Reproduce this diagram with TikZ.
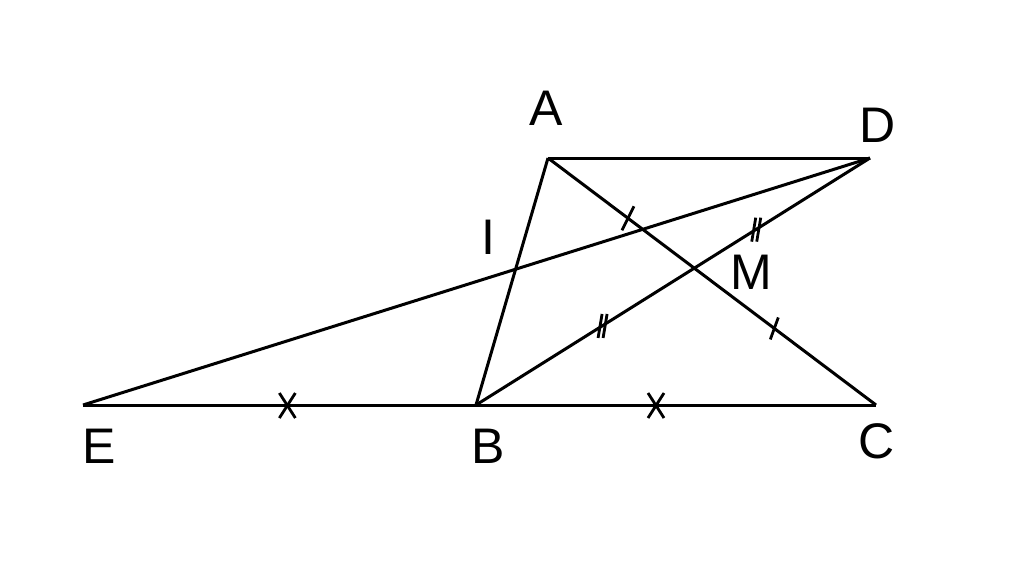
\documentclass[tikz,border=0pt]{standalone}
\usepackage{fontspec}
\setmainfont{Liberation Sans}
\usetikzlibrary{calc}
\begin{document}
\begin{tikzpicture}[x=0.5pt,y=-0.5pt,
  seg/.style={line width=1.5pt,black},
  tick/.style={line width=1.4pt,black},
  lbl/.style={font=\fontsize{25}{29}\selectfont,inner sep=0pt}]
\useasboundingbox (0,0) rectangle (1024,579);
\coordinate (A) at (548,158);
\coordinate (D) at (870,158);
\coordinate (E) at (83,405);
\coordinate (B) at (476,405);
\coordinate (C) at (876,405);
\draw[seg] (A) -- (D);
\draw[seg] (A) -- (B);
\draw[seg] (A) -- (C);
\draw[seg] (B) -- (D);
\draw[seg] (E) -- (D);
\draw[seg] (E) -- (C);
% single ticks on AC
\coordinate (t1) at ($(A)!0.244!(C)$);
\coordinate (t2) at ($(A)!0.69!(C)$);
\draw[tick] ($(t1)+(-6,12)$) -- ($(t1)+(6,-12)$);
\draw[tick] ($(t2)+(-4,11)$) -- ($(t2)+(4,-11)$);
% double ticks on BD
\coordinate (d1) at ($(B)!0.32!(D)$);
\coordinate (d2) at ($(B)!0.71!(D)$);
\foreach \p in {d1,d2}{
  \draw[tick] ($(\p)+(-4,12)$) -- ($(\p)+(0,-12)$);
  \draw[tick] ($(\p)+(1,12)$) -- ($(\p)+(5,-12)$);
}
% crosses on EB and BC
\coordinate (x1) at ($(E)!0.52!(B)$);
\coordinate (x2) at ($(B)!0.45!(C)$);
\foreach \p in {x1,x2}{
  \draw[tick] ($(\p)+(-8,-12)$) -- ($(\p)+(8,13)$);
  \draw[tick] ($(\p)+(8,-12)$) -- ($(\p)+(-8,13)$);
}
\node[lbl] (lA) at (546,108) {A};
\node[lbl] (lD) at (878,125) {D};
\node[lbl] (lI) at (488,237) {I};
\node[lbl] (lM) at (751,272) {M};
\node[lbl] (lE) at (99,446) {E};
\node[lbl] (lB) at (488,446) {B};
\node[lbl] (lC) at (877,441) {C};
\end{tikzpicture}
\end{document}
